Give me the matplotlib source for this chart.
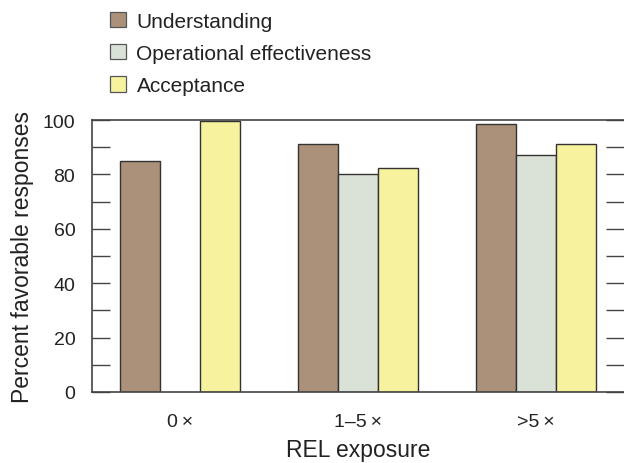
import matplotlib
matplotlib.use("Agg")
import matplotlib.pyplot as plt
import numpy as np
from matplotlib.patches import Patch
from matplotlib.ticker import MultipleLocator

plt.rcParams['font.family'] = ['Liberation Sans', 'DejaVu Sans']

categories = ['0\u2009×', '1–5\u2009×', '>5\u2009×']
series_names = ['Understanding', 'Operational effectiveness', 'Acceptance']
understanding = [85, 91, 98.5]
operational = [np.nan, 80, 87]
acceptance = [99.5, 82.5, 91]
colors = ['#AB917A', '#DAE2D8', '#F7F29D']

fig = plt.figure(figsize=(6.24, 4.64), dpi=100)
ax = fig.add_axes([92/624, 71/464, 1 - 92/624, (393-121)/464])

x = np.arange(len(categories))
w = 0.225
edge = '#333333'
for i, (vals, c) in enumerate(zip([understanding, operational, acceptance], colors)):
    v = np.array(vals, dtype=float)
    mask = ~np.isnan(v)
    ax.bar(x[mask] + (i - 1) * w, v[mask], width=w, color=c, edgecolor=edge, linewidth=1.0, zorder=2)

ax.set_xlim(-0.494, 2.494)
ax.set_ylim(0, 100)
ax.yaxis.set_major_locator(MultipleLocator(20))
ax.yaxis.set_minor_locator(MultipleLocator(10))
ax.tick_params(axis='y', which='both', direction='in', length=13, width=1.0, color='#444444',
               left=True, right=True, labelsize=14, pad=12, labelcolor='#222222')
ax.set_xticks(x)
ax.set_xticklabels(categories)
ax.tick_params(axis='x', length=0, labelsize=14, pad=15, labelcolor='#222222')
ax.spines['right'].set_visible(False)
for s in ['left', 'top', 'bottom']:
    ax.spines[s].set_color('#444444')
    ax.spines[s].set_linewidth(1.2)

ax.set_ylabel('Percent favorable responses', fontsize=16.5, color='#222222', labelpad=6)
ax.set_xlabel('REL exposure', fontsize=16.5, color='#222222', labelpad=6)

handles = [Patch(facecolor=c, edgecolor='#555555', linewidth=0.9) for c in colors]
fig.legend(handles, series_names, loc='upper left', bbox_to_anchor=(110/624, 1 - 12.5/464),
           frameon=False, fontsize=15, handlelength=0.77, handleheight=0.77,
           handletextpad=0.5, labelspacing=0.64, borderpad=0, borderaxespad=0,
           labelcolor='#222222')

fig.savefig('out.png', dpi=100)
